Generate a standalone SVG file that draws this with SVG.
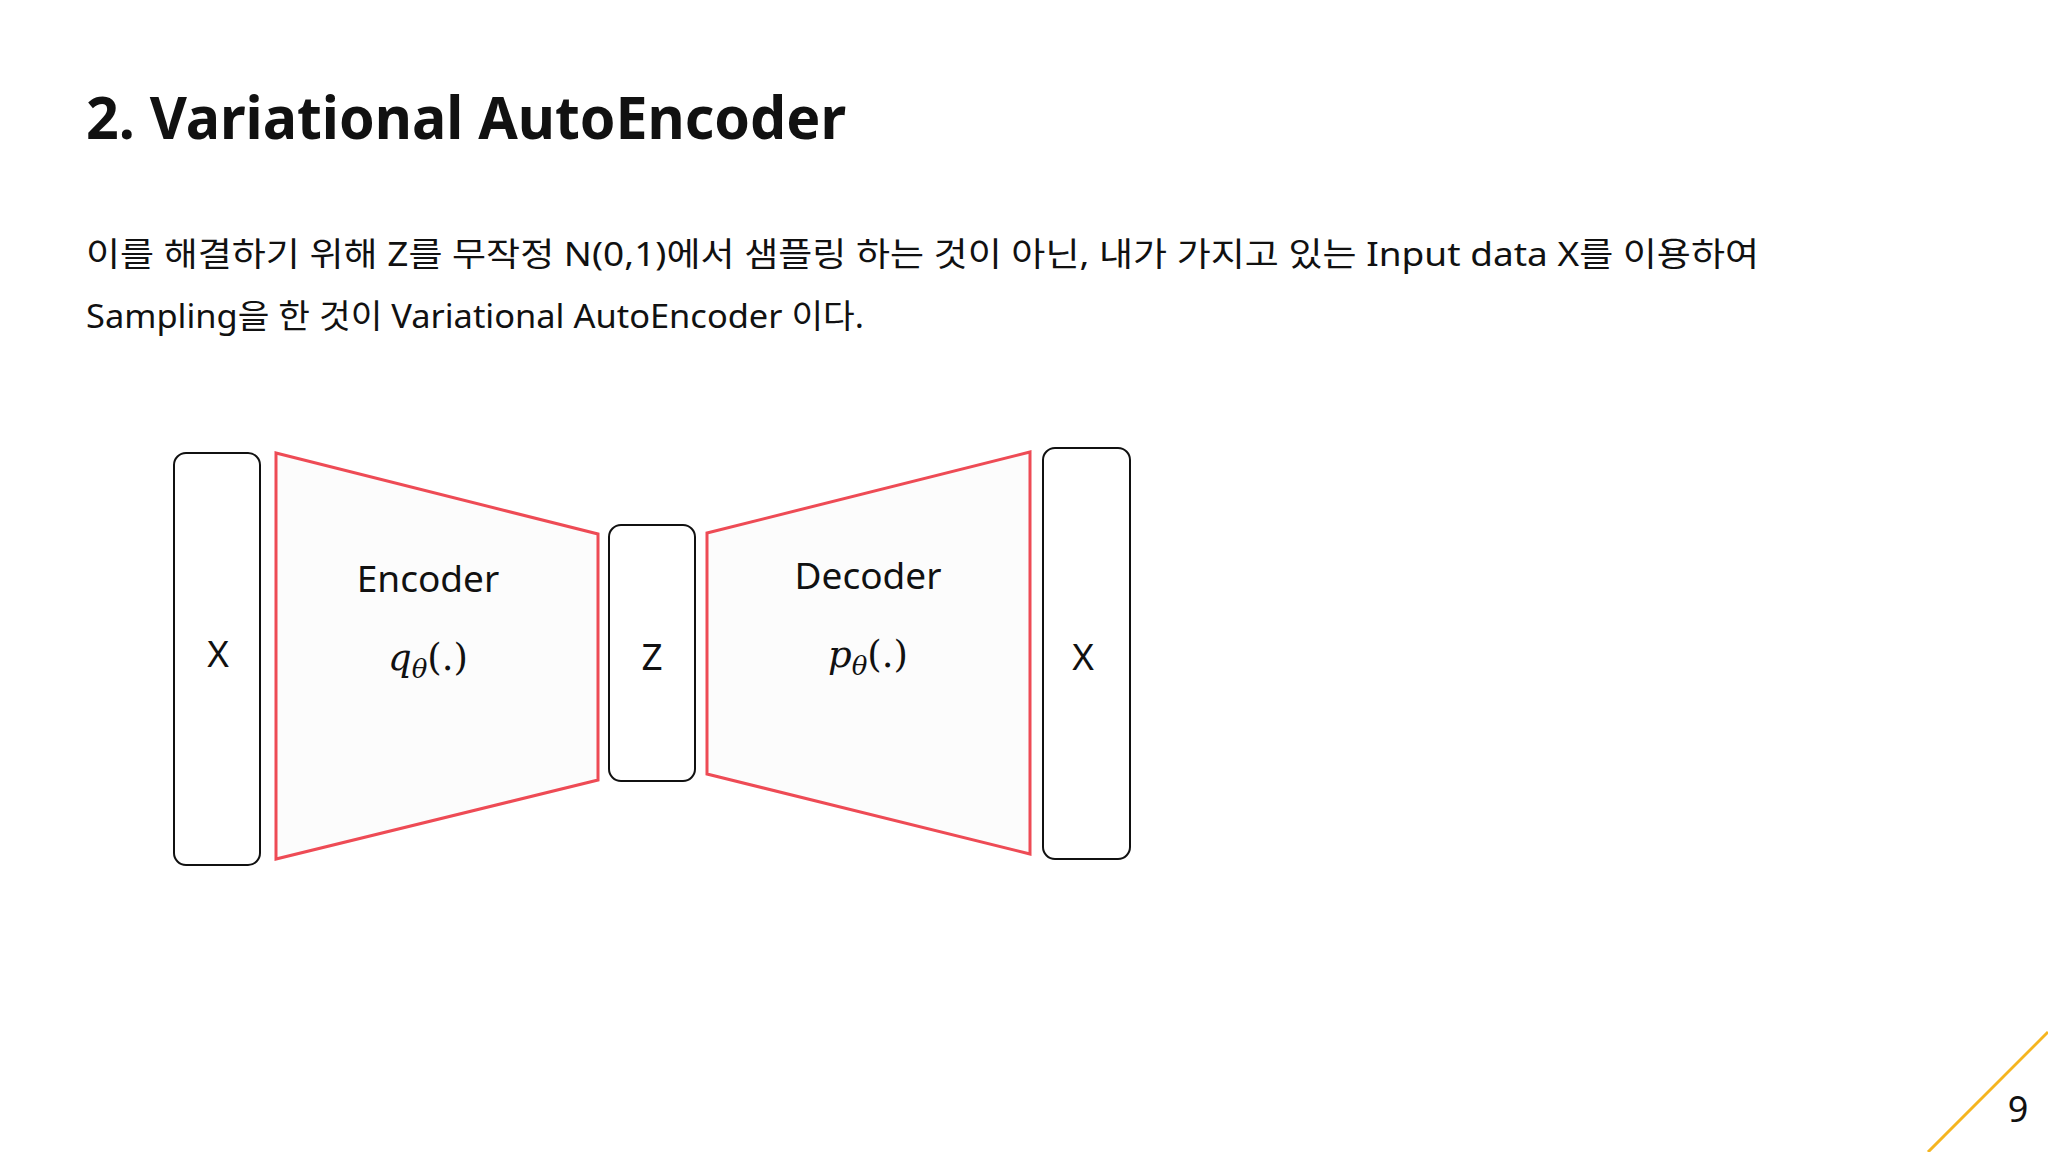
<svg xmlns="http://www.w3.org/2000/svg" width="2048" height="1152" viewBox="0 0 2048 1152">
<style>
.t{font-family:"Noto Sans","Noto Sans CJK KR",sans-serif;fill:#111}
.box{fill:#fff;stroke:#111;stroke-width:2}
.trap{fill:#fcfcfc;stroke:#ee4b55;stroke-width:3}
.lbl{font-family:"Noto Sans",sans-serif;font-size:37px;fill:#111;text-anchor:middle}
.m{font-family:"DejaVu Serif","Liberation Serif",serif;font-size:37px;font-style:italic;fill:#111;text-anchor:middle}
</style>
<rect width="2048" height="1152" fill="#fff"/>
<text class="t" x="86" y="139" font-size="60" font-weight="bold" textLength="760" lengthAdjust="spacingAndGlyphs">2. Variational AutoEncoder</text>
<text class="t" x="86" y="266" font-size="33" textLength="1673" lengthAdjust="spacingAndGlyphs">이를 해결하기 위해 Z를 무작정 N(0,1)에서 샘플링 하는 것이 아닌, 내가 가지고 있는 Input data X를 이용하여</text>
<text class="t" x="86" y="328" font-size="33" textLength="778" lengthAdjust="spacingAndGlyphs">Sampling을 한 것이 Variational AutoEncoder 이다.</text>
<g id="x-in"><rect class="box" x="174" y="453" width="86" height="412" rx="12"/><text class="lbl" x="218" y="667">X</text></g>
<g id="encoder"><polygon class="trap" points="276,453 598,534 598,780 276,859"/><text class="lbl" x="428" y="592">Encoder</text><text class="m" x="428" y="670">q<tspan font-size="26" dy="8">θ</tspan><tspan dy="-8" font-style="normal">(.)</tspan></text></g>
<g id="z"><rect class="box" x="609" y="525" width="86" height="256" rx="12"/><text class="lbl" x="652" y="670">Z</text></g>
<g id="decoder"><polygon class="trap" points="707,533 1030,452 1030,854 707,774"/><text class="lbl" x="868" y="589">Decoder</text><text class="m" x="868" y="667">p<tspan font-size="26" dy="8">θ</tspan><tspan dy="-8" font-style="normal">(.)</tspan></text></g>
<g id="x-out"><rect class="box" x="1043" y="448" width="87" height="411" rx="12"/><text class="lbl" x="1083" y="670">X</text></g>
<g id="connectors"></g>
<line x1="1928" y1="1152" x2="2048" y2="1032" stroke="#f5b520" stroke-width="3"/>
<text class="t" x="2018" y="1122" font-size="36" text-anchor="middle">9</text>
</svg>
